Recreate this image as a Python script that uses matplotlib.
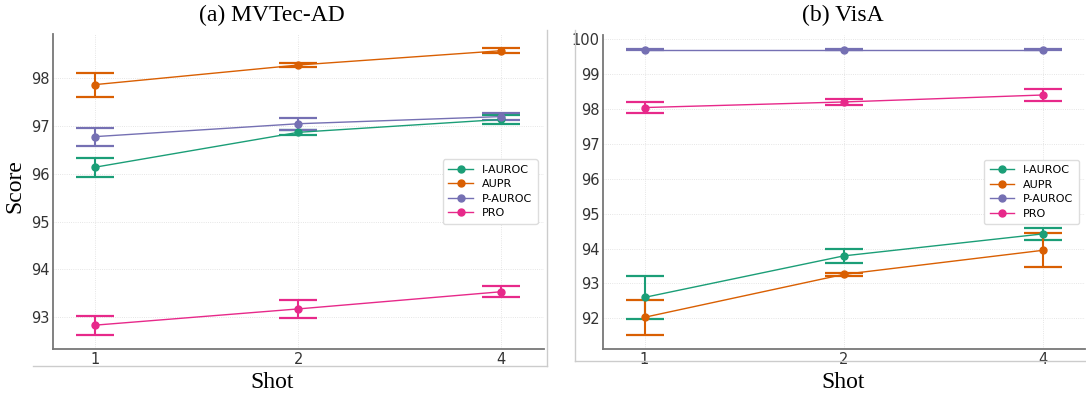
import matplotlib

matplotlib.use("Agg")
import matplotlib.pyplot as plt
from matplotlib.lines import Line2D

# shots (categorical positions 0, 1, 2)
shots = ["1", "2", "4"]
metrics = ["I-AUROC", "AUPR", "P-AUROC", "PRO"]
colors = ["#1b9e77", "#d95f02", "#7570b3", "#e7298a"]

# (a) MVTec-AD
mvtec_mean = {
    "I-AUROC": [96.14, 96.87, 97.14],
    "AUPR": [97.87, 98.28, 98.58],
    "P-AUROC": [96.78, 97.05, 97.20],
    "PRO": [92.83, 93.17, 93.53],
}
mvtec_err = {
    "I-AUROC": [0.20, 0.05, 0.10],
    "AUPR": [0.25, 0.05, 0.05],
    "P-AUROC": [0.19, 0.13, 0.08],
    "PRO": [0.20, 0.19, 0.12],
}

# (b) VisA
visa_mean = {
    "I-AUROC": [92.60, 93.79, 94.42],
    "AUPR": [92.03, 93.26, 93.95],
    "P-AUROC": [99.70, 99.70, 99.70],
    "PRO": [98.04, 98.20, 98.40],
}
visa_err = {
    "I-AUROC": [0.61, 0.21, 0.17],
    "AUPR": [0.50, 0.05, 0.49],
    "P-AUROC": [0.01, 0.01, 0.01],
    "PRO": [0.17, 0.09, 0.16],
}

W, H = 1086, 396
SERIF = ["Liberation Serif", "DejaVu Serif"]


def _rect(x0, y0, x1, y1):
    # pixel box (top-left origin) -> figure fraction rect
    return [x0 / W, 1 - y1 / H, (x1 - x0) / W, (y1 - y0) / H]


def draw_panel(ax, means, errs):
    x = list(range(len(shots)))
    handles = []
    for name, c in zip(metrics, colors):
        ax.errorbar(x, means[name], yerr=errs[name], fmt="-o", color=c,
                    lw=1.0, ms=5, elinewidth=1.5, capsize=14, capthick=1.6)
        handles.append(Line2D([], [], color=c, lw=1.0, marker="o", ms=5, label=name))
    ax.set_xticks(x)
    ax.set_xticklabels(shots)
    ax.set_xlim(-0.21, 2.21)
    ax.grid(True, color="#dddddd", lw=0.6, ls=":")
    ax.set_axisbelow(True)
    for s in ("top", "right"):
        ax.spines[s].set_visible(False)
    for s in ("left", "bottom"):
        ax.spines[s].set_color("#777777")
        ax.spines[s].set_linewidth(1.3)
    ax.tick_params(length=0, pad=2, labelsize=10.5, colors="#333333")
    ax.legend(handles=handles, loc="center right", bbox_to_anchor=(0.987, 0.5),
              borderaxespad=0, fontsize=8, frameon=True, edgecolor="#dddddd",
              framealpha=1, handlelength=2.2, borderpad=0.5, labelspacing=0.4)


fig = plt.figure(figsize=(W / 100, H / 100), dpi=100)
ax1 = fig.add_axes(_rect(52.7, 34, 544, 349))
ax2 = fig.add_axes(_rect(602.7, 35, 1085, 349))
draw_panel(ax1, mvtec_mean, mvtec_err)
draw_panel(ax2, visa_mean, visa_err)

# light frames left over from the pasted sub-figures
frame = dict(color="#cccccc", lw=1.0, transform=fig.transFigure)
for xs, ys in [((33, 547), (366, 366)), ((547, 547), (30, 366)),
               ((575, 575), (30, 361)), ((575, 1086), (361, 361))]:
    fig.add_artist(Line2D([v / W for v in xs], [1 - v / H for v in ys], **frame))

fig.text(272 / W, 1 - 15 / H, "(a) MVTec-AD", family=SERIF, fontsize=17,
         ha="center", va="center")
fig.text(843 / W, 1 - 15 / H, "(b) VisA", family=SERIF, fontsize=17,
         ha="center", va="center")
fig.text(272 / W, 1 - 383 / H, "Shot", family=SERIF, fontsize=17,
         ha="center", va="center")
fig.text(843 / W, 1 - 383 / H, "Shot", family=SERIF, fontsize=17,
         ha="center", va="center")
fig.text(15 / W, 1 - 186 / H, "Score", family=SERIF, fontsize=17,
         rotation=90, ha="center", va="center")

fig.savefig("out.png", dpi=100)
